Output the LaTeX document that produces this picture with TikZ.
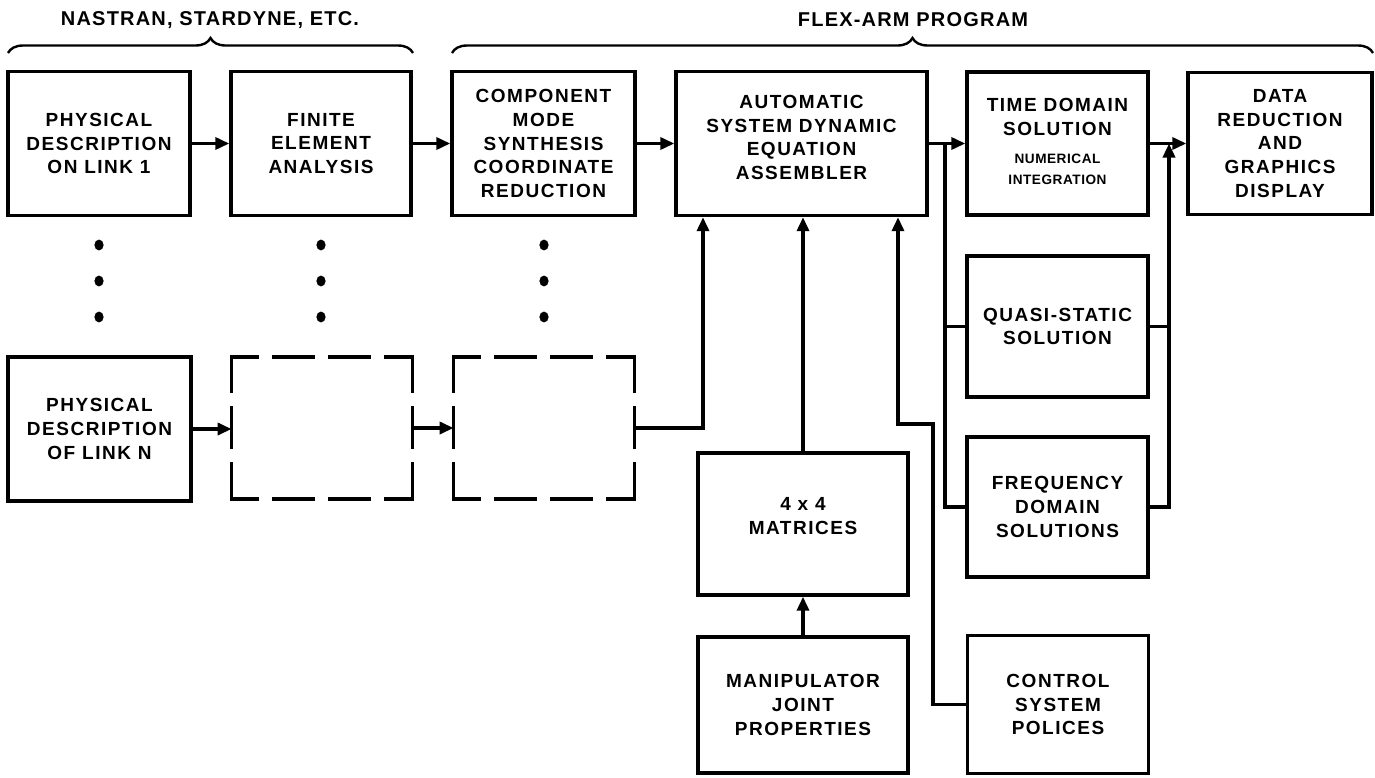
\documentclass[tikz,border=0pt]{standalone}
\usepackage{fontspec}
\setmainfont{Liberation Sans}[LetterSpace=8,BoldFont={Liberation Sans Bold}]
\newfontfamily\titlefont{Liberation Sans Bold}[LetterSpace=6]
\newfontfamily\smallfont{Liberation Sans Bold}[LetterSpace=4]
\usetikzlibrary{arrows.meta,decorations.pathreplacing,calc}
\begin{document}
\begin{tikzpicture}[x=0.5pt,y=-0.5pt,
  txt/.style={inner sep=0pt,align=center,font=\bfseries\fontsize{9.5}{11.8}\selectfont},
  box/.style={txt,draw,line width=1.7pt},
  dbox/.style={inner sep=0pt},
  dsideh/.style={line width=1.7pt,line cap=rect,dash pattern=on 20pt off 8pt,dash phase=7pt},
  dsidev/.style={line width=1.7pt,line cap=rect,dash pattern=on 20pt off 8pt,dash phase=2.75pt},
  conn/.style={line width=1.7pt},
  arr/.style={line width=1.7pt,-{Triangle[length=7pt,width=6pt]}},
  brc/.style={line width=1.2pt,decorate,decoration={brace,amplitude=7.5pt}},
  ttl/.style={inner sep=0pt,font=\titlefont\fontsize{10}{12}\selectfont}]
\useasboundingbox[fill=white] (0,0) rectangle (1375,777);

% titles and braces
\node[ttl] (t1) at (210,20) {NASTRAN, STARDYNE, ETC.};
\node[ttl] (t2) at (913,20) {FLEX-ARM PROGRAM};
\draw[brc] (8,53) -- (413,53);
\draw[brc] (452,53) -- (1373,53);

% top row
\node[box,minimum width=91pt,minimum height=72pt] (b1) at (99,143.5) {PHYSICAL\\DESCRIPTION\\ON LINK 1};
\node[box,minimum width=90pt,minimum height=72pt] (b2) at (321,143.5) {FINITE\\ELEMENT\\ANALYSIS};
\node[box,minimum width=91.5pt,minimum height=72pt] (b3) at (543.5,143.5) {COMPONENT\\MODE\\SYNTHESIS\\COORDINATE\\REDUCTION};
\node[box,minimum width=125.5pt,minimum height=72pt] (b4) at (801.5,143.5) {};
\node[txt] (b4t) at ([yshift=3pt]b4.center) {AUTOMATIC\\SYSTEM DYNAMIC\\EQUATION\\ASSEMBLER};
\node[box,minimum width=90.5pt,minimum height=71.5pt] (b5) at (1057.5,143.5)
  {\begin{tabular}{@{}c@{}}TIME DOMAIN\\SOLUTION\\[2.5pt]
   {\smallfont\fontsize{6.8}{8}\selectfont NUMERICAL}\\[-1.3pt]
   {\smallfont\fontsize{6.8}{8}\selectfont INTEGRATION}\end{tabular}};
\node[box,minimum width=92pt,minimum height=71pt] (b6) at (1280,143.5) {DATA\\REDUCTION\\AND\\GRAPHICS\\DISPLAY};

% dots
\foreach \x in {99,321,544}
  \foreach \y in {245,281,317}
    \fill (\x,\y) ellipse [x radius=2.3pt, y radius=2.7pt];

% second row
\node[box,minimum width=91.5pt,minimum height=72pt] (b7) at (99.5,429) {PHYSICAL\\DESCRIPTION\\OF LINK N};
\node[dbox,minimum width=90pt,minimum height=70.5pt] (b8) at (322,428) {};
\node[dbox,minimum width=90pt,minimum height=70.5pt] (b9) at (544,428) {};
\foreach \b in {b8,b9}{
  \draw[dsideh] (\b.north west) -- (\b.north east);
  \draw[dsideh] (\b.south west) -- (\b.south east);
  \draw[dsidev] (\b.north west) -- (\b.south west);
  \draw[dsidev] (\b.north east) -- (\b.south east);
}

% right column
\node[box,minimum width=90.5pt,minimum height=70.5pt] (q) at (1057.5,326.5) {QUASI-STATIC\\SOLUTION};
\node[box,minimum width=90.5pt,minimum height=70pt] (f) at (1057.5,507) {FREQUENCY\\DOMAIN\\SOLUTIONS};
\node[box,minimum width=90.5pt,minimum height=69pt] (cs) at (1058,704.5) {CONTROL\\SYSTEM\\POLICES};

% bottom middle
\node[box,minimum width=105pt,minimum height=71pt] (m4) at (803,524) {};
\node[txt] (m4t) at ([yshift=4pt]m4.center) {4 x 4\\MATRICES};
\node[box,minimum width=105pt,minimum height=68pt] (mj) at (803,705) {MANIPULATOR\\JOINT\\PROPERTIES};

% connectors
\draw[arr] (b1.east) -- (b2.west);
\draw[arr] (b2.east) -- (b3.west);
\draw[arr] (b3.east) -- (b4.west);
\draw[arr] (b4.east) -- (b5.west);
\draw[arr] (b5.east) -- (b6.west);
\draw[arr] (b7.east) -- (b7.east -| b8.west);
\draw[arr] (b8.east) -- (b8.east -| b9.west);
\coordinate (k0) at (703,428);
\draw[arr] (b9.east) -| (k0 |- b4.south);
\draw[arr] (m4.north) -- (b4.south -| m4.north);
\draw[arr] (mj.north) -- (m4.south);
\coordinate (k1) at (933,424);
\coordinate (k2) at (898,424);
\draw[arr] (cs.west) -| (k1) -- (k2) -- (k2 |- b4.south);
\coordinate (j1) at (945,143.5);
\draw[conn] (j1) |- (q.west);
\draw[conn] (j1) |- (f.west);
\coordinate (j2) at (1169,143.5);
\draw[conn] (q.east) -- (q.east -| j2);
\draw[arr] (f.east) -| (j2);
\end{tikzpicture}
\end{document}
